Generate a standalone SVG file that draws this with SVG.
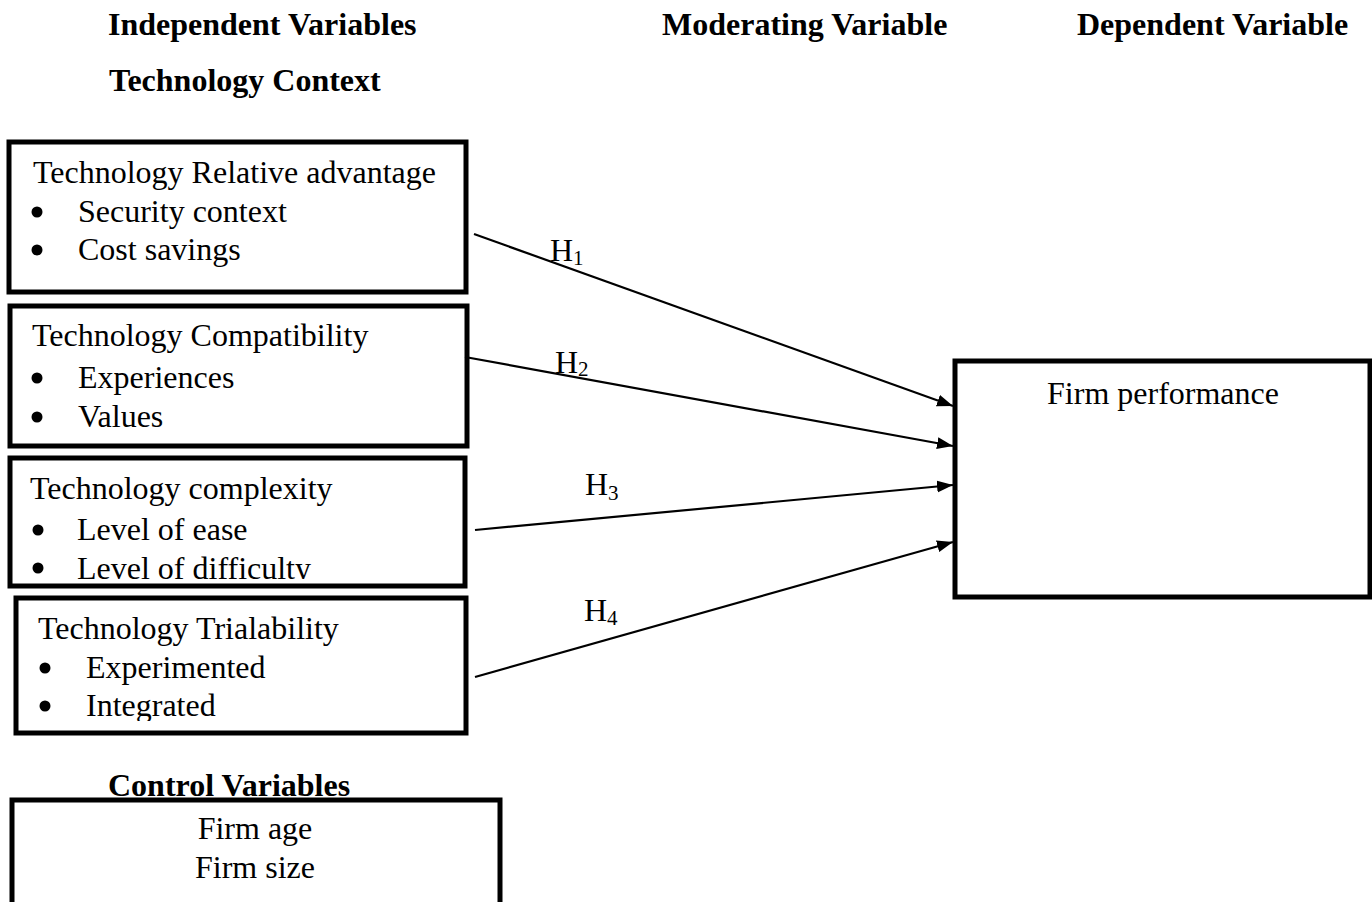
<svg xmlns="http://www.w3.org/2000/svg" width="1372" height="902" viewBox="0 0 1372 902">
<style>
text{font-family:"Liberation Serif","Times New Roman",serif;font-size:32px;fill:#000}
.b{font-weight:bold}
.box{fill:#fff;stroke:#000;stroke-width:5}
.conn{stroke:#000;stroke-width:2.2;fill:none}
.sub{font-size:21px}
</style>
<defs>
<marker id="ah" markerUnits="userSpaceOnUse" markerWidth="17" markerHeight="13" refX="16" refY="6" orient="auto">
<path d="M0,0 L16,6 L0,12 z" fill="#000"/>
</marker>
<clipPath id="c3"><rect x="0" y="440" width="480" height="139"/></clipPath>
<clipPath id="c4"><rect x="0" y="590" width="480" height="131"/></clipPath>
</defs>
<rect width="1372" height="902" fill="#fff"/>
<g id="headers">
<text class="b" x="108" y="35">Independent Variables</text>
<text class="b" x="662" y="35">Moderating Variable</text>
<text class="b" x="1077" y="35">Dependent Variable</text>
<text class="b" x="109" y="91">Technology Context</text>
<text class="b" x="108" y="796">Control Variables</text>
</g>
<g id="node-relative-advantage">
<rect class="box" x="9" y="142" width="457" height="150"/>
<text x="33" y="183">Technology Relative advantage</text>
<circle cx="37" cy="212" r="5.5"/><text x="78" y="222">Security context</text>
<circle cx="37" cy="250" r="5.5"/><text x="78" y="260">Cost savings</text>
</g>
<g id="node-compatibility">
<rect class="box" x="10" y="306" width="457" height="140"/>
<text x="32" y="346">Technology Compatibility</text>
<circle cx="37" cy="378" r="5.5"/><text x="78" y="388">Experiences</text>
<circle cx="37" cy="417" r="5.5"/><text x="78" y="427">Values</text>
</g>
<g id="node-complexity">
<rect class="box" x="10" y="458" width="455" height="128"/>
<text x="30" y="499">Technology complexity</text>
<circle cx="38" cy="530" r="5.5"/><text x="77" y="540">Level of ease</text>
<circle cx="38" cy="568" r="5.5"/>
<text x="77" y="579" clip-path="url(#c3)">Level of difficulty</text>
</g>
<g id="node-trialability">
<rect class="box" x="16" y="598" width="450" height="135"/>
<text x="38" y="639">Technology Trialability</text>
<circle cx="45" cy="668" r="5.5"/><text x="86" y="678">Experimented</text>
<circle cx="45" cy="706" r="5.5"/>
<text x="86" y="716" clip-path="url(#c4)">Integrated</text>
</g>
<g id="node-firm-performance">
<rect class="box" x="955" y="361" width="415" height="236"/>
<text x="1163" y="404" text-anchor="middle">Firm performance</text>
</g>
<g id="node-control">
<rect class="box" x="12" y="800" width="488" height="120"/>
<text x="255" y="839" text-anchor="middle">Firm age</text>
<text x="255" y="878" text-anchor="middle">Firm size</text>
</g>
<g id="connectors">
<line class="conn" x1="474" y1="234" x2="953" y2="406" marker-end="url(#ah)"/>
<line class="conn" x1="465" y1="357" x2="953" y2="446" marker-end="url(#ah)"/>
<line class="conn" x1="475" y1="530" x2="953" y2="485" marker-end="url(#ah)"/>
<line class="conn" x1="475" y1="677" x2="953" y2="542" marker-end="url(#ah)"/>
<text x="550" y="261">H<tspan class="sub" dy="4">1</tspan></text>
<text x="555" y="373">H<tspan class="sub" dy="3">2</tspan></text>
<text x="585" y="495">H<tspan class="sub" dy="5">3</tspan></text>
<text x="584" y="621">H<tspan class="sub" dy="4">4</tspan></text>
</g>
</svg>
